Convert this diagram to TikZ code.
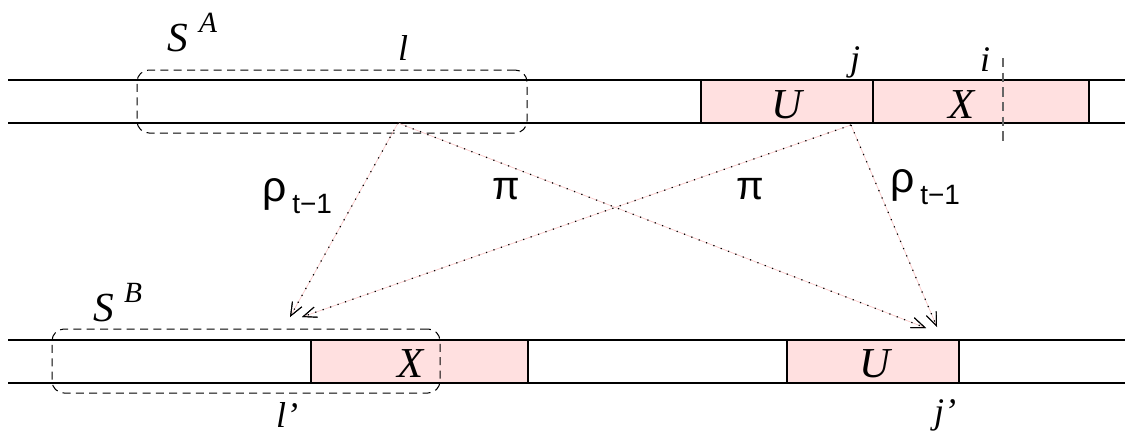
\documentclass[tikz,border=0pt]{standalone}
\usepackage{fontspec}
\setmainfont{Liberation Serif}
\newfontfamily\sansgr{Liberation Sans}
\usetikzlibrary{arrows.meta}
\definecolor{boxpink}{RGB}{255,224,224}
\definecolor{linkpink}{RGB}{250,200,200}
\tikzset{
  strip/.style={draw=black, line width=1pt},
  seg/.style={draw=black, fill=boxpink, line width=0.8pt, inner sep=0pt, minimum height=43*0.75pt},
  group/.style={draw=black, dashed, dash pattern=on 6pt off 4pt, rounded corners=9pt, line width=0.75pt, inner sep=0pt},
  lab/.style={font=\fontsize{27}{27}\selectfont\itshape, inner sep=0pt},
  biglab/.style={font=\fontsize{32}{32}\selectfont\itshape, inner sep=0pt},
  slab/.style={font=\fontsize{31}{31}\selectfont\itshape, inner sep=0pt},
  suplab/.style={font=\fontsize{22}{22}\selectfont\itshape, inner sep=0pt},
  greek/.style={font=\fontsize{32}{32}\selectfont\sansgr, inner sep=0pt},
  pilab/.style={font=\fontsize{30}{30}\selectfont\sansgr, inner sep=0pt},
  sub/.style={font=\fontsize{21}{21}\selectfont\sansgr, inner sep=0pt},
  link/.style={draw=linkpink, line width=0.5pt,
    postaction={draw=black, line width=0.9pt, dash pattern=on 0.9pt off 5pt},
    -{Straight Barb[length=10pt,width=8pt,line width=0.7pt,black]}},
}
\begin{document}
\begin{tikzpicture}[x=0.75pt,y=-0.75pt]
\useasboundingbox (0,0) rectangle (1125,436);
% top strip
\draw[strip] (8,80) -- (1125,80);
\draw[strip] (8,123) -- (1125,123);
\node[seg, minimum width=172*0.75pt] (U1) at (787,101.5) {};
\node[seg, minimum width=216*0.75pt] (X1) at (981,101.5) {};
\node[biglab] at (787,105) {U};
\node[biglab] at (962,105) {X};
\node[group, minimum width=390*0.75pt, minimum height=63*0.75pt] (SA) at (332,101.5) {};
\node[lab] (lj) at (855,62) {j};
\node[lab] (li) at (985,60) {i};
\coordinate (itop) at (1003,58);
\coordinate (ibot) at (1003,145);
\draw[draw=black!60, dashed, dash pattern=on 7pt off 4pt, line width=1pt] (itop) -- (ibot);
\node[slab] (SAl) at (178,38) {S};
\node[suplab] (SAs) at (208,23) {A};
\node[lab] (ll) at (403,48) {l};
% bottom strip
\draw[strip] (8,340) -- (1125,340);
\draw[strip] (8,383) -- (1125,383);
\node[seg, minimum width=217*0.75pt] (X2) at (419.5,361.5) {};
\node[seg, minimum width=172*0.75pt] (U2) at (873,361.5) {};
\node[biglab] at (411,364) {X};
\node[biglab] at (875,364) {U};
\node[group, minimum width=388*0.75pt, minimum height=64*0.75pt] (SB) at (246,361) {};
\node[slab] (SBl) at (104,308) {S};
\node[suplab] (SBs) at (133,293) {B};
\node[lab] (llp) at (287,415) {l’};
\node[lab] (ljp) at (945,415) {j’};
% connectors
\coordinate (srcA) at (398,123);
\coordinate (srcU) at (851,125);
\coordinate (tA1) at (290,317);
\coordinate (tA2) at (302,317);
\coordinate (tB1) at (926,328);
\coordinate (tB2) at (937,327);
\draw[link] (srcA) -- (tA1);
\draw[link] (srcA) -- (tB1);
\draw[link] (srcU) -- (tA2);
\draw[link] (srcU) -- (tB2);
% labels on connectors
\node[greek, anchor=west] (rho1) at (262,194) {ρ};
\node[sub, anchor=west] (rho1s) at (292,204) {t−1};
\node[pilab] (pi1) at (506,189) {π};
\node[pilab] (pi2) at (750,189) {π};
\node[greek, anchor=west] (rho2) at (890,185) {ρ};
\node[sub, anchor=west] (rho2s) at (920,195) {t−1};
\end{tikzpicture}
\end{document}
